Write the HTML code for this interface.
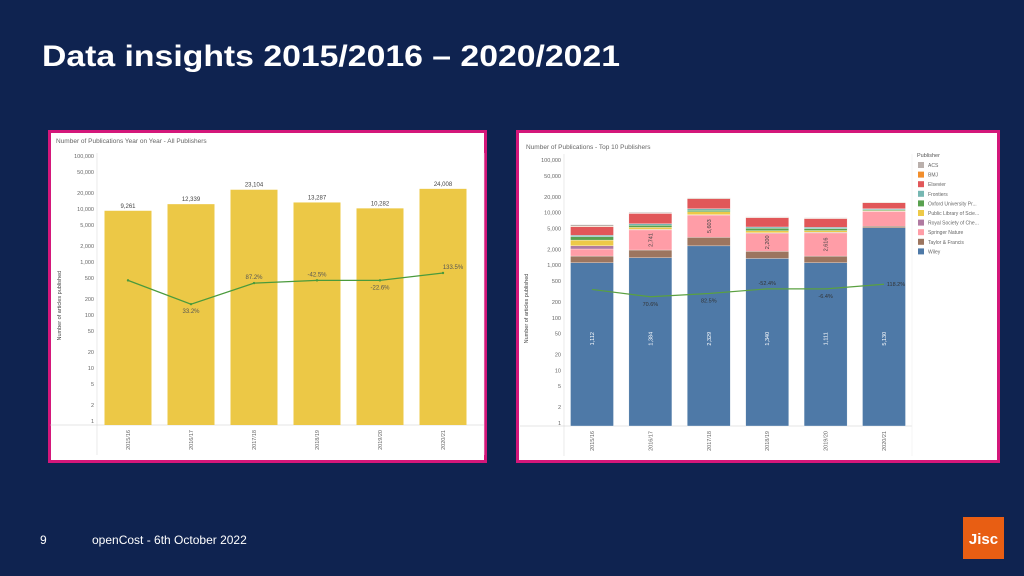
<!DOCTYPE html>
<html><head><meta charset="utf-8"><style>
html,body{margin:0;padding:0;width:1024px;height:576px;overflow:hidden;background:#0f2350;}
svg{display:block;font-family:"Liberation Sans",sans-serif;}
.t{fill:#666;font-size:5.5px;}
</style></head><body>
<svg id="s" width="1024" height="576" viewBox="0 0 1024 576">
<rect width="1024" height="576" fill="#0f2350"/>
<text x="42" y="66" fill="#fff" font-size="30" font-weight="bold" textLength="578" lengthAdjust="spacingAndGlyphs">Data insights 2015/2016 – 2020/2021</text>
<text x="40" y="544" fill="#fff" font-size="12">9</text>
<text x="92" y="544" fill="#fff" font-size="12">openCost -  6th October 2022</text>
<g>
<rect x="963" y="517" width="41" height="42" fill="#e85e13"/>
<text x="983.5" y="544" fill="#fff" font-size="15" font-weight="bold" text-anchor="middle">Jisc</text>
</g>
<g id="left">
<rect x="49.5" y="131.5" width="436" height="330" fill="#fff" stroke="#d4177a" stroke-width="3"/>
<text x="56" y="143" fill="#666" font-size="6.5">Number of Publications Year on Year - All Publishers</text>
</g>
<g id="right">
<rect x="517.5" y="131.5" width="481" height="330" fill="#fff" stroke="#d4177a" stroke-width="3"/>
<text x="526" y="149" fill="#666" font-size="6.5">Number of Publications - Top 10 Publishers</text>
</g>
</svg>
<script>
const categories=["2015/16","2016/17","2017/18","2018/19","2019/20","2020/21"];
const allTotals=[9261,12339,23104,13287,10282,24008];
const allLine=[450,160,400,450,450,620];
const allLineLabels=["","33.2%","87.2%","-42.5%","-22.6%","133.5%"];
const tickValues=[100000,50000,20000,10000,5000,2000,1000,500,200,100,50,20,10,5,2,1];
const tickLabels=["100,000","50,000","20,000","10,000","5,000","2,000","1,000","500","200","100","50","20","10","5","2","1"];
const publishers=["Wiley","Taylor & Francis","Springer Nature","Royal Society of Che...","Public Library of Scie...","Oxford University Pr...","Frontiers","Elsevier","BMJ","ACS"];
const pubColors=["#4e79a7","#9c755f","#ff9da7","#b07aa1","#edc948","#59a14f","#76b7b2","#e15759","#f28e2b","#bab0ac"];
const wiley=[1112,1384,2329,1340,1111,5130];
const taylorFrancis=[380,560,1050,490,380,400];
const springer=[540,2741,5603,2200,2616,5000];
const rsc=[310,100,150,100,100,100];
const plos=[660,450,1200,400,350,300];
const oup=[470,500,800,500,400,400];
const frontiers=[230,400,700,300,300,500];
const elsevier=[1670,3500,6500,2700,2450,3500];
const bmj=[130,150,200,100,100,200];
const acs=[400,300,500,200,200,300];
const topLine=[346,251,290,355,355,435];
const topLineLabels=["","70.6%","82.5%","-52.4%","-6.4%","118.2%"];
const springerLabels=["","2,741","5,603","2,200","2,616",""];
const wileyLabels=["1,112","1,384","2,329","1,340","1,111","5,130"];

const NS="http://www.w3.org/2000/svg";
function mk(parent,tag,attrs,txt){const e=document.createElementNS(NS,tag);for(const k in attrs)e.setAttribute(k,attrs[k]);if(txt!==undefined)e.textContent=txt;parent.appendChild(e);return e;}
function fmt(v){return v.toLocaleString("en-US");}

function drawAxes(g,yS,axX,x0,x1,base,xs,prefix){
  mk(g,"line",{x1:axX,y1:base-272,x2:axX,y2:base+30,stroke:"#ddd","stroke-width":0.6});
  mk(g,"line",{x1:x0,y1:base,x2:x1,y2:base,stroke:"#ccc","stroke-width":0.6});
  mk(g,"line",{x1:x1,y1:base-272,x2:x1,y2:base+30,stroke:"#eee","stroke-width":0.6});
  tickValues.forEach((v,i)=>{
    const t=mk(g,"text",{x:axX-3,y:yS(v)+2,"text-anchor":"end",class:"t"},tickLabels[i]);
    
    
  });
  categories.forEach((c,i)=>{
    const t=mk(g,"text",{transform:`translate(${xs(i)+2},${base+5}) rotate(-90)`,"text-anchor":"end",class:"t"},c);
    
    
  });
  const yt=mk(g,"text",{transform:`translate(${axX-36},${yS(150)}) rotate(-90)`,"text-anchor":"middle",fill:"#444","font-size":"5.5"},prefix);
  
  
}

// LEFT
(function(){
  const g=document.getElementById("left");
  const base=425, yS=v=>421-53*Math.log10(v), xs=i=>128+i*63;
  drawAxes(g,yS,97,50,484,base,xs,"Number of articles published");
  allTotals.forEach((v,i)=>{
    const r=mk(g,"rect",{x:xs(i)-23.5,y:yS(v),width:47,height:base-yS(v),fill:"#ecc846"});
    
    
    const l=mk(g,"text",{x:xs(i),y:yS(v)-3,"text-anchor":"middle",fill:"#444","font-size":"6"},fmt(v));
    
    
  });
  const pts=allLine.map((v,i)=>xs(i)+","+yS(v)).join(" ");
  const pl=mk(g,"polyline",{points:pts,fill:"none",stroke:"#4a9a3c","stroke-width":1.3});
  
  
  allLine.forEach((v,i)=>{
    const c=mk(g,"circle",{cx:xs(i),cy:yS(v),r:1.2,fill:"#4a9a3c"});
    
    
    if(allLineLabels[i]){
      const below=(i===1||i===4);
      const dx=i===5?10:0;
      const l=mk(g,"text",{x:xs(i)+dx,y:yS(v)+(below?9:-4),"text-anchor":"middle",fill:"#555","font-size":"6"},allLineLabels[i]);
      
      
    }
  });
})();

// RIGHT
(function(){
  const g=document.getElementById("right");
  const base=426, yS=v=>423-52.6*Math.log10(v), xs=i=>592+i*58.4;
  drawAxes(g,yS,564,520,912,base,xs,"Number of articles published");
  const series=[wiley,taylorFrancis,springer,rsc,plos,oup,frontiers,elsevier,bmj,acs];
  categories.forEach((c,i)=>{
    let cum=0;
    series.forEach((s,k)=>{
      const lo=cum; cum+=s[i];
      const yTop=yS(cum), yBot=k===0?base:yS(lo);
      const r=mk(g,"rect",{x:xs(i)-21.5,y:yTop,width:43,height:yBot-yTop,fill:pubColors[k],stroke:"#fff","stroke-width":0.3});
      
      
    });
    const wl=mk(g,"text",{transform:`translate(${xs(i)+2},${yS(40)}) rotate(-90)`,"text-anchor":"middle",fill:"#fff","font-size":"5.5"},wileyLabels[i]);
    
    
    if(springerLabels[i]){
      const lo=wiley[i]+taylorFrancis[i], hi=lo+springer[i];
      const sl=mk(g,"text",{transform:`translate(${xs(i)+2},${(yS(lo)+yS(hi))/2}) rotate(-90)`,"text-anchor":"middle",fill:"#444","font-size":"5.5"},springerLabels[i]);
      
      
    }
  });
  const pts=topLine.map((v,i)=>xs(i)+","+yS(v)).join(" ");
  const pl=mk(g,"polyline",{points:pts,fill:"none",stroke:"#5aa040","stroke-width":1.2});
  
  
  topLine.forEach((v,i)=>{
    if(topLineLabels[i]){
      const above=(i===3);
      const dx=i===5?12:0;
      const l=mk(g,"text",{x:xs(i)+dx,y:yS(v)+(above?-4:(i===5?2:9)),"text-anchor":"middle",fill:"#333","font-size":"5.5"},topLineLabels[i]);
      
      
    }
  });
  const lt=mk(g,"text",{x:917,y:157,fill:"#555","font-size":"5.5"},"Publisher");
  
  
  const order=[9,8,7,6,5,4,3,2,1,0];
  const names=["ACS","BMJ","Elsevier","Frontiers","Oxford University Pr...","Public Library of Scie...","Royal Society of Che...","Springer Nature","Taylor & Francis","Wiley"];
  order.forEach((k,j)=>{
    const y=162+j*9.6;
    const sw=mk(g,"rect",{x:918,y:y,width:6,height:6,fill:pubColors[k]});
    
    
    const tx=mk(g,"text",{x:928,y:y+5,fill:"#666","font-size":"5"},names[j]);
    
    
  });
})();
</script>
</body></html>
